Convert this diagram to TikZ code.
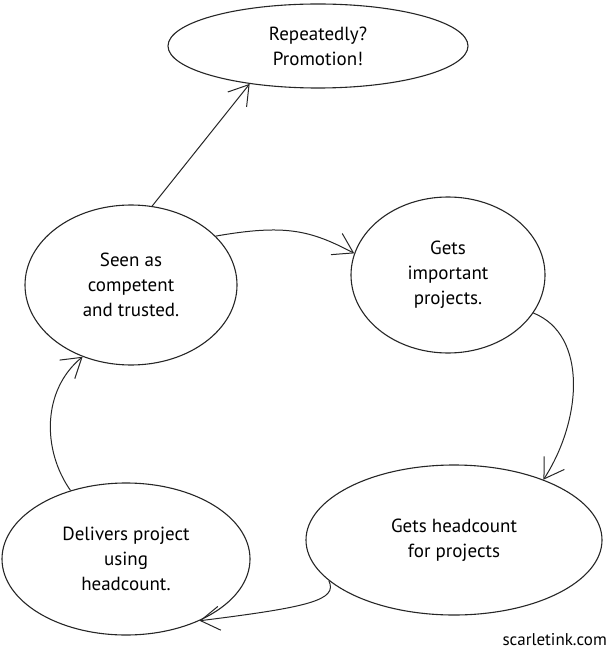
\documentclass[tikz,border=0pt]{standalone}
\usepackage{fontspec}
\setmainfont{PT Sans}
\usetikzlibrary{arrows.meta,shapes.geometric}
\begin{document}
\begin{tikzpicture}[x=1pt,y=-1pt,
  bubble/.style={draw=black!85, line width=1.1pt, ellipse, inner sep=0pt, align=center, font=\fontsize{19}{25}\selectfont},
  link/.style={draw=black!85, line width=1pt, -{Straight Barb[length=19pt,width=24pt,line width=1pt]}}]
\useasboundingbox (0,0) rectangle (609,652);
\node[bubble, minimum width=300pt, minimum height=84pt] (top) at (318,46) {Repeatedly?\\Promotion!};
\node[bubble, minimum width=212pt, minimum height=160pt] (seen) at (131,285) {Seen as\\competent\\and trusted.};
\node[bubble, minimum width=194pt, minimum height=156pt] (imp) at (448,275) {Gets\\important\\projects.};
\node[bubble, minimum width=296pt, minimum height=150pt] (head) at (454,540) {Gets headcount\\for projects};
\node[bubble, minimum width=248pt, minimum height=152pt] (deliv) at (126,559) {Delivers project\\using\\headcount.};
\node[anchor=south east, font=\fontsize{17}{20}\selectfont, inner sep=0pt] (brand) at (607,646) {scarletink.com};
\draw[link] (seen.75.5) -- (top.209);
\draw[link] (seen.30.3) .. controls (285,224) and (310,230) .. (imp.167);
\draw[link] (imp.-24.5) .. controls (588,335) and (582,420) .. (head.34.7);
\draw[link] (head.198) .. controls (338,600) and (310,607) .. (deliv.-40.7);
\draw[link] (deliv.129.3) .. controls (42,450) and (42,390) .. (seen.236);
\end{tikzpicture}
\end{document}
